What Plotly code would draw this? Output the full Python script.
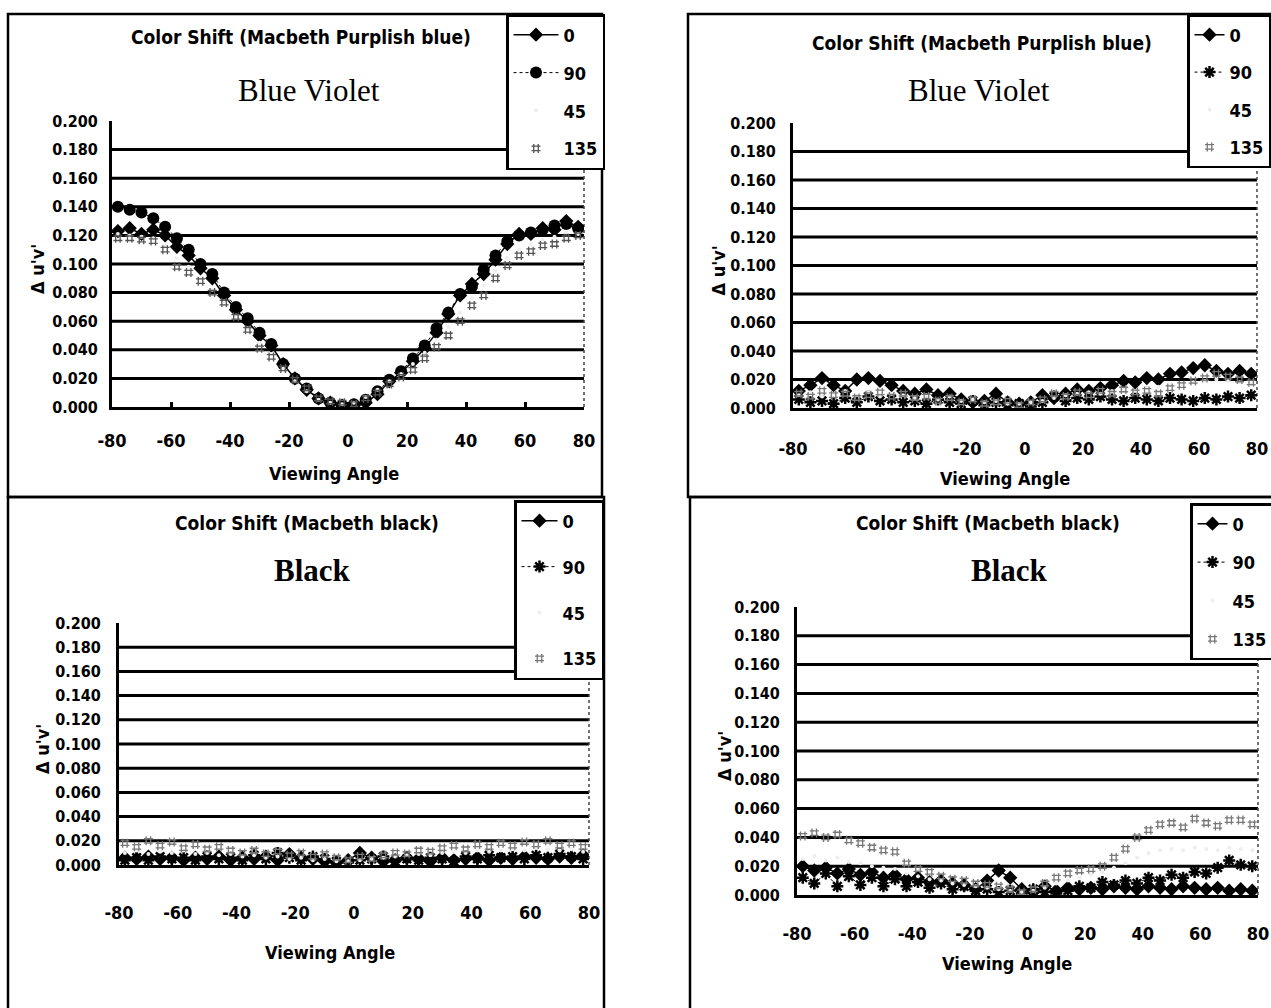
import plotly.graph_objects as go

W, H = 1271, 1008

# ---------------- data ----------------
ANGLES = [-78, -74, -70, -66, -62, -58, -54, -50, -46, -42, -38, -34, -30, -26, -22, -18, -14, -10, -6, -2,
          2, 6, 10, 14, 18, 22, 26, 30, 34, 38, 42, 46, 50, 54, 58, 62, 66, 70, 74, 78]
SERIES_NAMES = ["0", "90", "45", "135"]
X_TICKS = [-80, -60, -40, -20, 0, 20, 40, 60, 80]
Y_TICKS = [0.0, 0.02, 0.04, 0.06, 0.08, 0.10, 0.12, 0.14, 0.16, 0.18, 0.20]
GRID_VALUES = [0.02, 0.04, 0.06, 0.08, 0.10, 0.12, 0.14, 0.16, 0.18]

# Top-left: Blue Violet (Macbeth Purplish blue)
TL_0 = [0.123, 0.125, 0.121, 0.124, 0.120, 0.112, 0.106, 0.097, 0.090, 0.078, 0.068, 0.060, 0.050, 0.043, 0.030, 0.020, 0.012, 0.006, 0.003, 0.001,
        0.001, 0.003, 0.009, 0.018, 0.024, 0.032, 0.041, 0.052, 0.065, 0.078, 0.086, 0.093, 0.103, 0.114, 0.121, 0.121, 0.125, 0.124, 0.130, 0.126]
TL_90 = [0.140, 0.138, 0.136, 0.132, 0.126, 0.118, 0.110, 0.100, 0.093, 0.080, 0.070, 0.062, 0.052, 0.044, 0.030, 0.020, 0.013, 0.006, 0.003, 0.001,
         0.002, 0.005, 0.011, 0.019, 0.025, 0.034, 0.043, 0.055, 0.066, 0.079, 0.084, 0.096, 0.106, 0.116, 0.120, 0.122, 0.124, 0.127, 0.128, 0.125]
TL_45 = [0.121, 0.120, 0.119, 0.118, 0.113, 0.104, 0.098, 0.090, 0.082, 0.074, 0.064, 0.055, 0.045, 0.037, 0.027, 0.018, 0.011, 0.005, 0.003, 0.002,
         0.003, 0.007, 0.012, 0.018, 0.023, 0.030, 0.038, 0.047, 0.056, 0.066, 0.076, 0.085, 0.095, 0.104, 0.110, 0.114, 0.117, 0.119, 0.122, 0.121]
TL_135 = [0.118, 0.118, 0.117, 0.116, 0.110, 0.098, 0.094, 0.088, 0.080, 0.073, 0.063, 0.054, 0.041, 0.035, 0.027, 0.019, 0.013, 0.006, 0.004, 0.003,
          0.002, 0.006, 0.010, 0.016, 0.021, 0.026, 0.034, 0.042, 0.050, 0.060, 0.071, 0.078, 0.090, 0.099, 0.106, 0.109, 0.113, 0.114, 0.118, 0.120]

# Top-right: Blue Violet (improved)
TR_0 = [0.012, 0.016, 0.021, 0.016, 0.012, 0.020, 0.021, 0.019, 0.016, 0.012, 0.010, 0.013, 0.009, 0.010, 0.006, 0.004, 0.005, 0.010, 0.004, 0.003,
        0.004, 0.009, 0.007, 0.010, 0.013, 0.012, 0.014, 0.016, 0.019, 0.018, 0.021, 0.020, 0.024, 0.025, 0.028, 0.030, 0.026, 0.024, 0.026, 0.024]
TR_90 = [0.006, 0.004, 0.005, 0.003, 0.007, 0.004, 0.008, 0.005, 0.006, 0.004, 0.005, 0.003, 0.006, 0.004, 0.003, 0.005, 0.002, 0.004, 0.002, 0.003,
         0.001, 0.004, 0.008, 0.005, 0.007, 0.006, 0.008, 0.006, 0.005, 0.007, 0.006, 0.005, 0.007, 0.006, 0.005, 0.007, 0.006, 0.008, 0.007, 0.009]
TR_45 = [0.009, 0.011, 0.008, 0.010, 0.012, 0.009, 0.011, 0.008, 0.010, 0.009, 0.007, 0.009, 0.006, 0.008, 0.005, 0.006, 0.004, 0.005, 0.003, 0.003,
         0.004, 0.005, 0.007, 0.009, 0.010, 0.011, 0.010, 0.012, 0.013, 0.012, 0.014, 0.015, 0.016, 0.017, 0.018, 0.019, 0.020, 0.019, 0.018, 0.017]
TR_135 = [0.010, 0.008, 0.012, 0.009, 0.010, 0.007, 0.009, 0.011, 0.008, 0.010, 0.007, 0.008, 0.005, 0.007, 0.004, 0.006, 0.003, 0.004, 0.005, 0.002,
          0.004, 0.006, 0.010, 0.008, 0.011, 0.009, 0.012, 0.010, 0.013, 0.011, 0.012, 0.010, 0.014, 0.016, 0.019, 0.021, 0.024, 0.022, 0.020, 0.018]

# Bottom-left: Black
BL_0 = [0.006, 0.005, 0.007, 0.005, 0.006, 0.004, 0.006, 0.005, 0.007, 0.004, 0.006, 0.005, 0.007, 0.004, 0.009, 0.006, 0.005, 0.003, 0.002, 0.004,
        0.010, 0.006, 0.003, 0.004, 0.006, 0.005, 0.003, 0.006, 0.004, 0.005, 0.006, 0.004, 0.006, 0.005, 0.007, 0.006, 0.005, 0.007, 0.006, 0.008]
BL_90 = [0.004, 0.006, 0.004, 0.007, 0.005, 0.006, 0.004, 0.007, 0.005, 0.006, 0.004, 0.008, 0.005, 0.010, 0.006, 0.004, 0.007, 0.005, 0.003, 0.002,
         0.004, 0.005, 0.007, 0.003, 0.005, 0.004, 0.006, 0.005, 0.003, 0.007, 0.005, 0.008, 0.006, 0.007, 0.005, 0.008, 0.006, 0.009, 0.007, 0.005]
BL_45 = [0.010, 0.012, 0.009, 0.011, 0.010, 0.012, 0.009, 0.010, 0.008, 0.009, 0.007, 0.008, 0.006, 0.007, 0.005, 0.006, 0.004, 0.005, 0.003, 0.003,
         0.004, 0.005, 0.006, 0.007, 0.008, 0.009, 0.008, 0.010, 0.011, 0.010, 0.012, 0.011, 0.012, 0.013, 0.012, 0.014, 0.013, 0.012, 0.013, 0.011]
BL_135 = [0.018, 0.015, 0.020, 0.016, 0.019, 0.014, 0.017, 0.013, 0.015, 0.012, 0.010, 0.012, 0.009, 0.011, 0.008, 0.010, 0.007, 0.009, 0.006, 0.004,
          0.007, 0.005, 0.008, 0.010, 0.009, 0.012, 0.011, 0.014, 0.016, 0.013, 0.017, 0.015, 0.018, 0.016, 0.019, 0.017, 0.020, 0.016, 0.018, 0.015]

# Bottom-right: Black (improved)
BR_0 = [0.020, 0.017, 0.019, 0.015, 0.018, 0.014, 0.016, 0.012, 0.014, 0.011, 0.012, 0.009, 0.010, 0.008, 0.007, 0.004, 0.010, 0.017, 0.012, 0.004,
        0.002, 0.006, 0.003, 0.005, 0.004, 0.005, 0.004, 0.006, 0.005, 0.004, 0.006, 0.005, 0.004, 0.006, 0.005, 0.004, 0.005, 0.003, 0.004, 0.003]
BR_90 = [0.012, 0.008, 0.015, 0.006, 0.013, 0.007, 0.012, 0.006, 0.011, 0.006, 0.009, 0.005, 0.008, 0.004, 0.006, 0.003, 0.004, 0.002, 0.003, 0.001,
         0.004, 0.002, 0.001, 0.003, 0.006, 0.005, 0.009, 0.007, 0.010, 0.008, 0.012, 0.010, 0.014, 0.012, 0.016, 0.015, 0.019, 0.024, 0.021, 0.020]
BR_45 = [0.025, 0.027, 0.024, 0.026, 0.023, 0.022, 0.020, 0.019, 0.018, 0.015, 0.013, 0.011, 0.010, 0.008, 0.007, 0.006, 0.005, 0.004, 0.003, 0.002,
         0.003, 0.005, 0.008, 0.010, 0.012, 0.014, 0.016, 0.019, 0.022, 0.026, 0.029, 0.031, 0.032, 0.031, 0.033, 0.032, 0.031, 0.033, 0.032, 0.031]
BR_135 = [0.041, 0.043, 0.040, 0.042, 0.038, 0.036, 0.033, 0.031, 0.030, 0.022, 0.018, 0.016, 0.013, 0.011, 0.010, 0.008, 0.007, 0.006, 0.004, 0.002,
          0.004, 0.008, 0.012, 0.015, 0.017, 0.018, 0.020, 0.026, 0.032, 0.040, 0.045, 0.049, 0.050, 0.047, 0.053, 0.050, 0.048, 0.052, 0.052, 0.049]

TITLE_BV = "Color Shift (Macbeth Purplish blue)"
TITLE_BK = "Color Shift (Macbeth black)"
SUB_BV = "Blue Violet"
SUB_BK = "Black"
X_TITLE = "Viewing Angle"
Y_TITLE = "Δ u'v'"

# ---------------- styling / layout ----------------
NARROW = "Liberation Sans Narrow, DejaVu Sans Condensed, Roboto Condensed, Arial Narrow, DejaVu Sans, sans-serif"
SERIF = "Liberation Serif, DejaVu Serif, Times New Roman, serif"


def fx(p):
    return p / W


def fy(p):
    return 1 - p / H


panels = [
    dict(n="", xpx=(112, 584), ypx=(121, 407), data=[TL_0, TL_90, TL_45, TL_135],
         title=TITLE_BV, tpos=(301, 37), sub=SUB_BV, spos=(309, 90), sub_bold=False,
         xtitle=(334, 473), tick_gap=15, ytitle_x=38, ylab_gap=8,
         box=(8, 14, 602, 497), leg=(506, 14), leggap=11.5, itemw=45,
         sym90="circle", inside_ticks=True),
    dict(n="2", xpx=(793, 1257), ypx=(123, 408), data=[TR_0, TR_90, TR_45, TR_135],
         title=TITLE_BV, tpos=(982, 43), sub=SUB_BV, spos=(979, 90), sub_bold=False,
         xtitle=(1005, 478), tick_gap=22, ytitle_x=718, ylab_gap=11,
         box=(688, 14, 1290, 497), leg=(1187, 14), leggap=11, itemw=30,
         sym90="asterisk-open", inside_ticks=False),
    dict(n="3", xpx=(119, 589), ypx=(623, 865), data=[BL_0, BL_90, BL_45, BL_135],
         title=TITLE_BK, tpos=(307, 523), sub=SUB_BK, spos=(312, 570), sub_bold=True,
         xtitle=(330, 952), tick_gap=29, ytitle_x=42, ylab_gap=12,
         box=(8, 497, 604, 1030), leg=(514, 500), leggap=19.5, itemw=36,
         sym90="asterisk-open", inside_ticks=False),
    dict(n="4", xpx=(797, 1258), ypx=(607, 895), data=[BR_0, BR_90, BR_45, BR_135],
         title=TITLE_BK, tpos=(988, 523), sub=SUB_BK, spos=(1009, 570), sub_bold=True,
         xtitle=(1007, 963), tick_gap=20, ytitle_x=724, ylab_gap=11,
         box=(690, 497, 1290, 1030), leg=(1190, 503), leggap=12, itemw=30,
         sym90="asterisk-open", inside_ticks=False),
]

fig = go.Figure()
annotations = []
shapes = []

for i, p in enumerate(panels):
    xa = "x" + p["n"]
    ya = "y" + p["n"]
    legname = "legend" + p["n"]
    d0, d90, d45, d135 = p["data"]

    fig.add_trace(go.Scatter(
        x=ANGLES, y=d0, name=SERIES_NAMES[0], xaxis=xa, yaxis=ya, legend=legname,
        legendgroup=f"p{i}s0", mode="lines+markers",
        line=dict(color="black", width=1.5),
        marker=dict(symbol="diamond", size=11, color="black")))
    if p["sym90"] == "circle":
        m90 = dict(symbol="circle", size=12, color="black")
    else:
        m90 = dict(symbol="asterisk-open", size=10, color="black", line=dict(width=2.5, color="black"))
    fig.add_trace(go.Scatter(
        x=ANGLES, y=d90, name=SERIES_NAMES[1], xaxis=xa, yaxis=ya, legend=legname,
        legendgroup=f"p{i}s1", mode="lines+markers",
        line=dict(color="black", width=1, dash="dot"), marker=m90))
    fig.add_trace(go.Scatter(
        x=ANGLES, y=d45, name=SERIES_NAMES[2], xaxis=xa, yaxis=ya, legend=legname,
        legendgroup=f"p{i}s2", mode="markers",
        marker=dict(symbol="circle", size=4, color="#eeeeee")))
    c135 = "#555555" if i == 0 else "#777777"
    fig.add_trace(go.Scatter(
        x=ANGLES, y=d135, name=SERIES_NAMES[3], xaxis=xa, yaxis=ya, legend=legname,
        legendgroup=f"p{i}s3", mode="markers",
        marker=dict(symbol="hash-open", size=9, color=c135, line=dict(width=1.3, color=c135))))

    x0, x1 = p["xpx"]
    ytop, ybot = p["ypx"]
    xaxis = dict(
        domain=[fx(x0), fx(x1)], anchor=ya, range=[-80, 80],
        tickvals=X_TICKS, ticktext=[str(v) for v in X_TICKS],
        showgrid=False, zeroline=False, showline=True, linecolor="black", linewidth=3,
        ticks="inside" if p["inside_ticks"] else "", ticklen=5, tickwidth=3, tickcolor="black",
        ticklabelstandoff=p["tick_gap"], ticklabeloverflow="allow",
        tickfont=dict(family=NARROW, size=18, color="black", weight="bold"),
    )
    yaxis = dict(
        domain=[fy(ybot), fy(ytop)], anchor=xa, range=[0, 0.2],
        tickvals=Y_TICKS, tickformat=".3f",
        showgrid=False, zeroline=False, showline=True, linecolor="black", linewidth=3,
        ticks="", ticklabelstandoff=p["ylab_gap"], ticklabeloverflow="allow",
        tickfont=dict(family=NARROW, size=16, color="black", weight="bold"),
    )
    fig.update_layout({("xaxis" + p["n"]): xaxis, ("yaxis" + p["n"]): yaxis})

    # horizontal grid lines
    for g in GRID_VALUES:
        shapes.append(dict(type="line", xref=xa + " domain", yref=ya, x0=0, x1=1, y0=g, y1=g,
                           line=dict(color="black", width=3), layer="below"))
    # dotted right border of plot area
    shapes.append(dict(type="line", xref=xa + " domain", yref=ya, x0=1, x1=1, y0=0, y1=0.18,
                       line=dict(color="#444", width=1.5, dash="dot"), layer="below"))
    # outer panel box
    bx0, by0, bx1, by1 = p["box"]
    shapes.append(dict(type="rect", xref="paper", yref="paper", x0=fx(bx0), x1=fx(bx1),
                       y0=fy(by1), y1=fy(by0), line=dict(color="black", width=2.5), layer="below"))

    # titles
    annotations.append(dict(text=p["title"], xref="paper", yref="paper", x=fx(p["tpos"][0]), y=fy(p["tpos"][1]),
                            showarrow=False, xanchor="center", yanchor="middle",
                            font=dict(family=NARROW, size=19, color="black", weight="bold")))
    annotations.append(dict(text=p["sub"], xref="paper", yref="paper", x=fx(p["spos"][0]), y=fy(p["spos"][1]),
                            showarrow=False, xanchor="center", yanchor="middle",
                            font=dict(family=SERIF, size=31, color="black",
                                      weight="bold" if p["sub_bold"] else "normal")))
    annotations.append(dict(text=X_TITLE, xref="paper", yref="paper", x=fx(p["xtitle"][0]),
                            y=fy(p["xtitle"][1]), showarrow=False, xanchor="center", yanchor="middle",
                            font=dict(family=NARROW, size=18, color="black", weight="bold")))
    annotations.append(dict(text=Y_TITLE, xref="paper", yref="paper", x=fx(p["ytitle_x"]),
                            y=fy((ytop + ybot) / 2 + 5), showarrow=False, textangle=-90,
                            xanchor="center", yanchor="middle",
                            font=dict(family=NARROW, size=18, color="black", weight="bold")))

    fig.update_layout({legname: dict(
        x=fx(p["leg"][0]), y=fy(p["leg"][1]), xanchor="left", yanchor="top",
        bgcolor="white", bordercolor="black", borderwidth=2.5,
        tracegroupgap=p["leggap"], traceorder="grouped", itemwidth=p["itemw"],
        font=dict(family=NARROW, size=18, color="black", weight="bold"),
    )})

fig.update_layout(
    width=W, height=H, margin=dict(l=0, r=0, t=0, b=0, autoexpand=False),
    paper_bgcolor="white", plot_bgcolor="white",
    showlegend=True, annotations=annotations, shapes=shapes,
)

fig.write_html("out.html", post_script="document.body.style.margin='0px';",
               config={"displayModeBar": False})
